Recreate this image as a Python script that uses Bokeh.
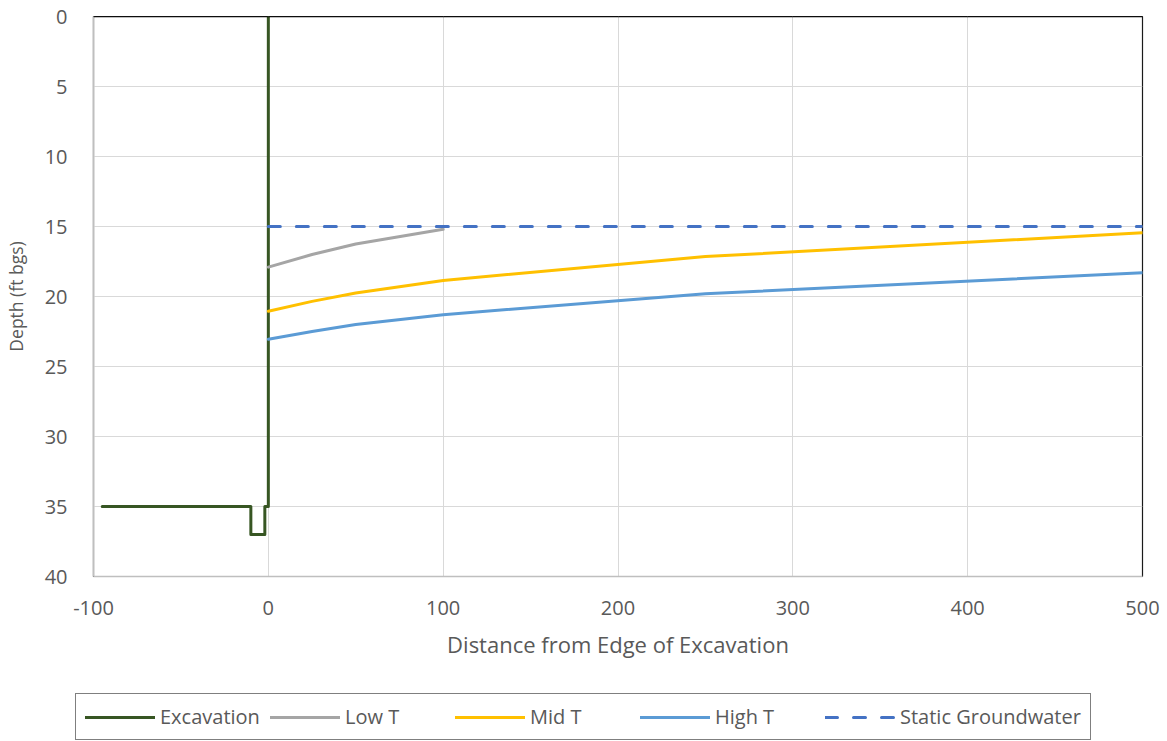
from bokeh.plotting import figure
from bokeh.layouts import column
from bokeh.models import Range1d, Legend, LegendItem, Span, FixedTicker
from bokeh.embed import file_html
from bokeh.resources import INLINE

# Data
exc_x = [-95, -10, -10, -2, -2, 0, 0]
exc_d = [35, 35, 37, 37, 35, 35, 0]
low_x = [0, 25, 50, 100]
low_t = [17.9, 17.0, 16.25, 15.2]
dist = [0, 25, 50, 100, 250, 500]
mid_t = [21.05, 20.35, 19.75, 18.85, 17.15, 15.45]
high_t = [23.05, 22.5, 22.0, 21.3, 19.8, 18.3]
gw_x = [0, 500]
gw_d = [15, 15]
x_ticks = [-100, 0, 100, 200, 300, 400, 500]
y_ticks = [0, 5, 10, 15, 20, 25, 30, 35, 40]
series_names = ["Excavation", "Low T", "Mid T", "High T", "Static Groundwater"]
series_colors = ["#375623", "#a5a5a5", "#ffc000", "#5b9bd5", "#4472c4"]

FONT = "Open Sans"
TXT = "#595959"
DASH = "12 16"

p = figure(frame_width=1049, frame_height=560, min_border_left=92, min_border_right=26,
           min_border_top=16, min_border_bottom=109,
           x_range=Range1d(-100, 500), y_range=Range1d(40, 0),
           output_backend="svg", toolbar_location=None)
p.frame_align = False

p.outline_line_color = "#1a1a1a"
p.outline_line_width = 1.2
p.background_fill_color = "white"
p.border_fill_color = "white"

for ax in (p.xaxis[0], p.yaxis[0]):
    ax.axis_line_color = "#bfbfbf"
    ax.axis_line_width = 1.5
    ax.major_tick_line_color = None
    ax.minor_tick_line_color = None
    ax.major_label_text_font = FONT
    ax.major_label_text_color = TXT
    ax.major_label_text_font_size = "20px"
    ax.axis_label_text_font = FONT
    ax.axis_label_text_color = TXT
    ax.axis_label_text_font_size = "22px"
    ax.axis_label_text_font_style = "normal"

p.xaxis[0].ticker = FixedTicker(ticks=x_ticks)
p.yaxis[0].ticker = FixedTicker(ticks=y_ticks)
p.xaxis[0].major_label_overrides = {-100: "-100"}
p.xaxis[0].axis_label = "Distance from Edge of Excavation"
p.yaxis[0].axis_label = "Depth (ft bgs)"
p.yaxis[0].axis_label_text_font_size = "17.5px"
p.xaxis[0].major_label_standoff = 18
p.yaxis[0].major_label_standoff = 20
p.xaxis[0].axis_label_standoff = 11
p.yaxis[0].axis_label_standoff = 14

p.xgrid.ticker = FixedTicker(ticks=x_ticks)
p.ygrid.ticker = FixedTicker(ticks=y_ticks)
p.xgrid.grid_line_color = "#d9d9d9"
p.ygrid.grid_line_color = "#d9d9d9"

p.add_layout(Span(location=0, dimension="width", line_color="black", line_width=1.5))

r_exc = p.line(exc_x, exc_d, line_color=series_colors[0], line_width=3, line_join="round", line_cap="round")
r_low = p.line(low_x, low_t, line_color=series_colors[1], line_width=3, line_join="round", line_cap="round")
r_mid = p.line(dist, mid_t, line_color=series_colors[2], line_width=3, line_join="round", line_cap="round")
r_high = p.line(dist, high_t, line_color=series_colors[3], line_width=3, line_join="round", line_cap="round")
r_gw = p.line(gw_x, gw_d, line_color=series_colors[4], line_width=3, line_dash=DASH, line_cap="round")

# Legend strip below the chart (its own full-width frame)
q = figure(width=1167, height=56, min_border=0, min_border_left=0, min_border_right=0,
           min_border_top=0, min_border_bottom=0, x_axis_type=None, y_axis_type=None,
           x_range=Range1d(0, 1), y_range=Range1d(0, 1),
           output_backend="svg", toolbar_location=None)
q.frame_align = False
q.outline_line_color = None
q.background_fill_color = "white"
q.border_fill_color = "white"
q.xgrid.visible = False
q.ygrid.visible = False
items = []
for i, (name, col) in enumerate(zip(series_names, series_colors)):
    kw = dict(line_dash=DASH) if i == 4 else {}
    # proxy renderers (kept outside the visible range) only feed the legend
    r = q.line([5, 6], [5, 6], line_color=col, line_width=3, line_cap="round", **kw)
    items.append(LegendItem(label=name, renderers=[r]))

legend = Legend(items=items, orientation="horizontal", location=(75, 1))
legend.label_text_font = FONT
legend.label_text_color = TXT
legend.label_text_font_size = "20px"
legend.glyph_width = 70
legend.glyph_height = 18
legend.label_width = 100
legend.spacing = 10
legend.padding = 9
legend.margin = 0
legend.label_standoff = 5
legend.border_line_color = "black"
legend.border_line_width = 1
legend.background_fill_color = "white"
legend.background_fill_alpha = 1
q.add_layout(legend, "center")

layout = column(p, q, spacing=0)
open("out.html", "w").write(file_html(layout, INLINE))
